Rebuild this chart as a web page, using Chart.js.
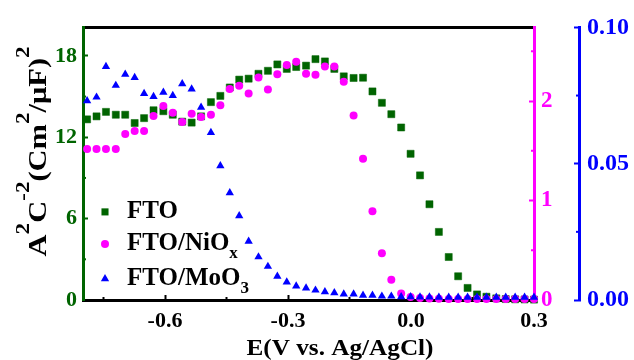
<!DOCTYPE html>
<html>
<head>
<meta charset="utf-8">
<script src="https://cdn.jsdelivr.net/npm/chart.js@4.4.1/dist/chart.umd.min.js"></script>
<style>
html,body{margin:0;padding:0;background:#ffffff;}
canvas{display:block;}
</style>
</head>
<body>
<canvas id="c" width="634" height="360"></canvas>
<script>
// ---------- data ----------
const potential = [-0.790,-0.767,-0.744,-0.720,-0.697,-0.674,-0.651,-0.628,-0.604,-0.581,
  -0.558,-0.535,-0.512,-0.488,-0.465,-0.442,-0.419,-0.396,-0.372,-0.349,
  -0.326,-0.303,-0.280,-0.256,-0.233,-0.210,-0.187,-0.164,-0.140,-0.117,
  -0.094,-0.071,-0.048,-0.024,-0.001,0.022,0.045,0.068,0.092,0.115,
  0.138,0.161,0.184,0.208,0.231,0.254,0.277,0.300];
const ftoValues = [13.32,13.54,13.87,13.66,13.66,13.05,13.41,13.99,13.92,13.66,
  13.15,13.08,13.54,14.59,15.05,15.67,16.25,16.32,16.68,16.90,
  17.37,17.04,17.18,17.28,17.76,17.59,17.04,16.49,16.37,16.39,
  15.38,14.54,13.70,12.72,10.78,9.19,7.06,5.02,3.17,1.75,
  0.89,0.41,0.24,0.12,0.07,0.05,0.04,0.03];
const nioxValues = [1.517,1.517,1.517,1.517,1.668,1.698,1.698,1.849,1.951,1.882,
  1.790,1.872,1.839,1.862,1.958,2.121,2.154,2.076,2.236,2.115,
  2.269,2.361,2.394,2.273,2.263,2.348,2.348,2.194,1.855,1.419,
  0.893,0.470,0.204,0.066,0.030,0.020,0.015,0.012,0.010,0.010,
  0.010,0.010,0.010,0.010,0.010,0.010,0.010,0.010];
const moo3Values = [0.0731,0.0744,0.0856,0.0787,0.0828,0.0816,0.0757,0.0746,0.0762,0.0750,
  0.0793,0.0774,0.0707,0.0614,0.0492,0.0393,0.0309,0.0215,0.0158,0.0123,
  0.0087,0.0066,0.0051,0.0044,0.0036,0.0030,0.0026,0.0022,0.0022,0.0017,
  0.0017,0.0014,0.0014,0.0012,0.0012,0.0011,0.0011,0.0010,0.0010,0.0010,
  0.0010,0.0010,0.0010,0.0010,0.0010,0.0010,0.0010,0.0010];

const seriesNames = ['FTO', 'FTO/NiOx', 'FTO/MoO3'];
const legendParts = [[['FTO', 0]], [['FTO/NiO', 0], ['x', -1]], [['FTO/MoO', 0], ['3', -1]]];

const xTickValues = [-0.6, -0.3, 0.0, 0.3];
const xTickLabels = ['-0.6', '-0.3', '0.0', '0.3'];
const xMinorTicks = [-0.75, -0.45, -0.15, 0.15];
const yTickValues = [0, 6, 12, 18];
const yTickLabels = ['0', '6', '12', '18'];
const yMinorTicks = [3, 9, 15];
const y1TickValues = [0, 1, 2];
const y1TickLabels = ['0', '1', '2'];
const y1MinorTicks = [0.5, 1.5, 2.5];
const y2TickValues = [0, 0.05, 0.10];
const y2TickLabels = ['0.00', '0.05', '0.10'];
const y2MinorTicks = [0.025, 0.075];

const xTitle = 'E(V vs. Ag/AgCl)';
const yTitleParts = [['A', 0], ['2', 1], ['C', 0], ['-2', 1], ['(Cm', 0], ['2', 1], ['/\u03BCF)', 0], ['2', 1]];

// ---------- styles ----------
const GREEN = '#006400', MAGENTA = '#ff00ff', BLUE = '#0000ff';
const FAMILY = '"Liberation Serif", "Times New Roman", serif';

function fixedTicks(values) {
  return s => { s.ticks = values.map(v => ({ value: v })); };
}

function drawRich(ctx, parts, size, supSize, supShift, subSize, subShift) {
  // measure, returns draw function starting at x=0 baseline=0
  let total = 0;
  const items = parts.map(([t, k]) => {
    const fs = k === 0 ? size : (k > 0 ? supSize : subSize);
    ctx.font = `bold ${fs}px ${FAMILY}`;
    const w = ctx.measureText(t).width;
    const it = { t, fs, w, x: total, dy: k === 0 ? 0 : (k > 0 ? -supShift : subShift) };
    total += w;
    return it;
  });
  return { width: total, draw: (x0) => {
    items.forEach(it => {
      ctx.font = `bold ${it.fs}px ${FAMILY}`;
      ctx.fillText(it.t, x0 + it.x, it.dy);
    });
  }};
}

const titlesPlugin = {
  id: 'titles',
  afterDraw(chart) {
    const ctx = chart.ctx;
    const a = chart.chartArea;
    ctx.save();
    ctx.fillStyle = '#000';
    ctx.textAlign = 'left';
    ctx.textBaseline = 'alphabetic';
    // y title (rotated)
    ctx.save();
    ctx.translate(a.left - 37, a.top + 124);
    ctx.rotate(-Math.PI / 2);
    const yt = drawRich(ctx, yTitleParts, 25, 19, 17, 19, 0);
    const ys = 210 / yt.width;
    ctx.scale(ys, 1);
    yt.draw(-yt.width / 2);
    ctx.restore();
    // x title
    ctx.save();
    ctx.font = `bold 23px ${FAMILY}`;
    const xw = ctx.measureText(xTitle).width;
    const xs = 187 / xw;
    ctx.translate(a.left + 257, a.bottom + 55);
    ctx.scale(xs, 1);
    ctx.fillText(xTitle, -xw / 2, 0);
    ctx.restore();
    ctx.restore();
  }
};

const legendPlugin = {
  id: 'insideLegend',
  afterDraw(chart) {
    const ctx = chart.ctx;
    const a = chart.chartArea;
    const baselines = [191, 223, 258];
    ctx.save();
    chart.data.datasets.forEach((ds, i) => {
      const by = a.top + baselines[i];
      const mx = a.left + 22, my = by - 6.5;
      const r = ds.pointRadius;
      ctx.fillStyle = ds.backgroundColor;
      ctx.beginPath();
      if (ds.pointStyle === 'rect') {
        const h = r * Math.SQRT1_2;
        ctx.rect(mx - h, my - h, 2 * h, 2 * h);
      } else if (ds.pointStyle === 'circle') {
        ctx.arc(mx, my, r, 0, Math.PI * 2);
      } else {
        let rad = 0;
        for (let k = 0; k < 3; k++) {
          const px = mx + Math.sin(rad) * r, py = my - Math.cos(rad) * r;
          if (k === 0) ctx.moveTo(px, py); else ctx.lineTo(px, py);
          rad += 2 * Math.PI / 3;
        }
        ctx.closePath();
      }
      ctx.fill();
      ctx.fillStyle = '#000';
      ctx.textAlign = 'left';
      ctx.textBaseline = 'alphabetic';
      ctx.save();
      ctx.translate(a.left + 44, by);
      const lt = drawRich(ctx, legendParts[i], 25, 17, 10, 17, 8);
      lt.draw(0);
      ctx.restore();
    });
    ctx.restore();
  }
};

const minorTicksPlugin = {
  id: 'minorTicks',
  afterDraw(chart) {
    const ctx = chart.ctx, a = chart.chartArea, sc = chart.scales;
    ctx.save();
    ctx.lineWidth = 2;
    const L = 3;
    ctx.strokeStyle = '#000';
    xMinorTicks.forEach(v => {
      const p = sc.x.getPixelForValue(v);
      ctx.beginPath(); ctx.moveTo(p, a.bottom); ctx.lineTo(p, a.bottom - L); ctx.stroke();
    });
    ctx.strokeStyle = GREEN;
    yMinorTicks.forEach(v => {
      const p = sc.y.getPixelForValue(v);
      ctx.beginPath(); ctx.moveTo(a.left, p); ctx.lineTo(a.left + L, p); ctx.stroke();
    });
    ctx.strokeStyle = MAGENTA;
    y1MinorTicks.forEach(v => {
      const p = sc.y1.getPixelForValue(v);
      ctx.beginPath(); ctx.moveTo(a.right, p); ctx.lineTo(a.right - L, p); ctx.stroke();
    });
    ctx.strokeStyle = BLUE;
    y2MinorTicks.forEach(v => {
      const p = sc.y2.getPixelForValue(v);
      ctx.beginPath(); ctx.moveTo(sc.y2.left, p); ctx.lineTo(sc.y2.left - L, p); ctx.stroke();
    });
    ctx.restore();
  }
};

const toPoints = vals => potential.map((x, i) => ({ x, y: vals[i] }));

new Chart(document.getElementById('c'), {
  type: 'scatter',
  data: {
    datasets: [
      { label: seriesNames[0], data: toPoints(ftoValues), yAxisID: 'y', order: 3,
        pointStyle: 'rect', pointRadius: 5, backgroundColor: GREEN, borderColor: GREEN,
        pointBorderWidth: 0.5, clip: false },
      { label: seriesNames[1], data: toPoints(nioxValues), yAxisID: 'y1', order: 2,
        pointStyle: 'circle', pointRadius: 4, backgroundColor: MAGENTA, borderColor: MAGENTA,
        pointBorderWidth: 0, clip: false },
      { label: seriesNames[2], data: toPoints(moo3Values), yAxisID: 'y2', order: 1,
        pointStyle: 'triangle', pointRadius: 4.8, backgroundColor: BLUE, borderColor: BLUE,
        pointBorderWidth: 0, clip: false }
    ]
  },
  options: {
    responsive: false,
    animation: false,
    events: [],
    layout: { padding: { top: 21, left: 0, right: 0, bottom: 0 } },
    plugins: { legend: { display: false }, tooltip: { enabled: false } },
    scales: {
      x: {
        type: 'linear', position: 'bottom', min: -0.8, max: 0.3,
        afterBuildTicks: fixedTicks(xTickValues),
        afterFit: s => { s.height = 60; },
        grid: { display: true, drawOnChartArea: false, drawTicks: true, tickLength: -5, tickColor: '#000', tickWidth: 2 },
        border: { display: true, color: '#000', width: 3 },
        ticks: { color: '#000', font: { family: FAMILY, size: 22, weight: 'bold' }, padding: 13,
          maxRotation: 0, autoSkip: false, callback: (v, i) => xTickLabels[i] }
      },
      xTop: {
        type: 'linear', position: 'top', min: -0.8, max: 0.3,
        afterFit: s => { s.height = 0; },
        grid: { display: false, drawTicks: false },
        border: { display: true, color: '#000', width: 3 },
        ticks: { display: false }
      },
      y: {
        type: 'linear', position: 'left', min: 0, max: 20.1,
        afterBuildTicks: fixedTicks(yTickValues),
        afterFit: s => { s.width = 83; },
        grid: { display: true, drawOnChartArea: false, drawTicks: true, tickLength: -5, tickColor: GREEN, tickWidth: 2 },
        border: { display: true, color: GREEN, width: 3 },
        ticks: { color: GREEN, font: { family: FAMILY, size: 22, weight: 'bold' }, padding: 11,
          autoSkip: false, callback: (v, i) => yTickLabels[i] }
      },
      y1: {
        type: 'linear', position: 'right', min: 0, max: 2.74,
        afterBuildTicks: fixedTicks(y1TickValues),
        afterFit: s => { s.width = 45; },
        grid: { display: true, drawOnChartArea: false, drawTicks: true, tickLength: -5, tickColor: MAGENTA, tickWidth: 2 },
        border: { display: true, color: MAGENTA, width: 3 },
        ticks: { color: MAGENTA, font: { family: FAMILY, size: 23, weight: 'bold' }, padding: 12,
          autoSkip: false, callback: (v, i) => y1TickLabels[i] }
      },
      y2: {
        type: 'linear', position: 'right', min: 0, max: 0.1,
        afterBuildTicks: fixedTicks(y2TickValues),
        afterFit: s => { s.width = 55; },
        grid: { display: true, drawOnChartArea: false, drawTicks: true, tickLength: -5, tickColor: BLUE, tickWidth: 2 },
        border: { display: true, color: BLUE, width: 3 },
        ticks: { color: BLUE, font: { family: FAMILY, size: 24, weight: 'bold' }, padding: 13,
          autoSkip: false, callback: (v, i) => y2TickLabels[i] }
      }
    }
  },
  plugins: [minorTicksPlugin, titlesPlugin, legendPlugin]
});
</script>
</body>
</html>
